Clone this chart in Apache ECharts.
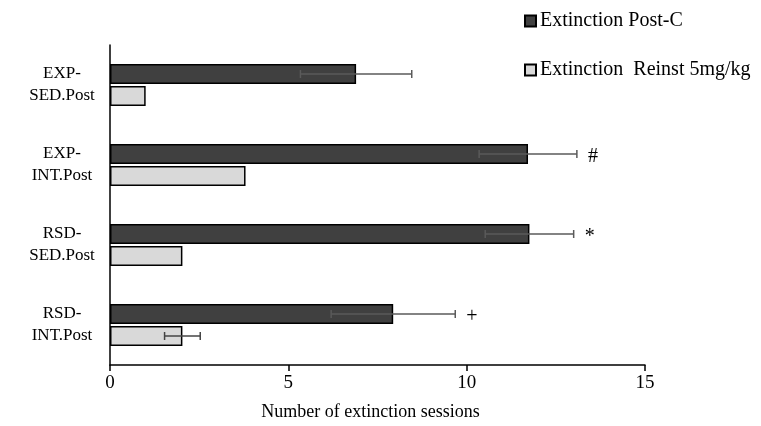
<!DOCTYPE html>
<html>
<head>
<meta charset="utf-8">
<script src="https://cdn.jsdelivr.net/npm/echarts@6/dist/echarts.min.js"></script>
<style>
  html, body { margin: 0; padding: 0; background: #fff; }
  #chart { width: 761px; height: 426px; }
</style>
</head>
<body>
<div id="chart"></div>
<script>
// Groups (top to bottom)
const categories = ['EXP-\nSED.Post', 'EXP-\nINT.Post', 'RSD-\nSED.Post', 'RSD-\nINT.Post'];
// Mean number of extinction sessions and SEM
const postC = [6.9, 11.72, 11.76, 7.94];
const postCErr = [1.56, 1.37, 1.24, 1.74];
const reinst = [1.0, 3.8, 2.03, 2.03];
const reinstErr = [0, 0, 0, 0.5];
// Significance markers beside the Post-C error bars
const marks = ['', '#', '*', '+'];
const xTicks = [0, 5, 10, 15];

const seriesNames = ['Extinction Post-C', 'Extinction  Reinst 5mg/kg'];

const FONT = '"Liberation Serif", "DejaVu Serif", serif';
const BAR_W = 20;
const BAR_GAP = 2;

function errorSeries(means, errs, offset, labels, color) {
  return {
    type: 'custom',
    z: 5,
    silent: true,
    data: means.map((m, i) => [m, errs[i], i]),
    renderItem: function (params, api) {
      const m = api.value(0), e = api.value(1), c = api.value(2);
      const lo = api.coord([m - e, c]);
      const hi = api.coord([m + e, c]);
      const y = lo[1] + offset;
      const children = [];
      if (e > 0) {
        const st = { stroke: color, lineWidth: 1.5 };
        children.push({ type: 'line', shape: { x1: lo[0], y1: y, x2: hi[0], y2: y }, style: st });
        children.push({ type: 'line', shape: { x1: lo[0], y1: y - 4, x2: lo[0], y2: y + 4 }, style: st });
        children.push({ type: 'line', shape: { x1: hi[0], y1: y - 4, x2: hi[0], y2: y + 4 }, style: st });
      }
      const lab = labels ? labels[params.dataIndex] : '';
      if (lab) {
        children.push({
          type: 'text',
          style: {
            text: lab, x: hi[0] + 11, y: y + 3,
            fill: '#000', font: '20px ' + FONT,
            verticalAlign: 'middle', align: 'left'
          }
        });
      }
      return { type: 'group', children: children };
    }
  };
}

const chart = echarts.init(document.getElementById('chart'), null, { renderer: 'canvas' });
chart.setOption({
  animation: false,
  backgroundColor: '#fff',
  textStyle: { fontFamily: FONT },
  grid: { left: 110, right: 116, top: 45, bottom: 61, containLabel: false },
  legend: {
    orient: 'vertical',
    left: 519,
    top: 6,
    itemGap: 29,
    itemWidth: 11,
    itemHeight: 11,
    icon: 'rect',
    textStyle: { fontFamily: FONT, fontSize: 20, color: '#000', padding: [0, 0, 0, -1] },
    data: seriesNames
  },
  xAxis: {
    type: 'value',
    min: 0,
    max: 15,
    interval: 5,
    name: 'Number of extinction sessions',
    nameLocation: 'middle',
    nameGap: 38,
    nameTextStyle: { fontFamily: FONT, fontSize: 18, color: '#000', padding: [0, 14, 0, 0] },
    axisLine: { show: true, lineStyle: { color: '#000', width: 1.5 } },
    axisTick: { show: true, length: 6, inside: false, lineStyle: { color: '#000', width: 1.5 } },
    axisLabel: {
      fontFamily: FONT, fontSize: 19, color: '#000', margin: 9,
      formatter: v => (xTicks.indexOf(v) >= 0 ? String(v) : '')
    },
    splitLine: { show: false }
  },
  yAxis: {
    type: 'category',
    inverse: true,
    data: categories,
    axisLine: { show: true, lineStyle: { color: '#000', width: 1.5 } },
    axisTick: { show: false },
    axisLabel: {
      fontFamily: FONT, fontSize: 17, color: '#000',
      align: 'center', margin: 48, lineHeight: 22
    }
  },
  series: [
    {
      name: seriesNames[0],
      type: 'bar',
      data: postC,
      barWidth: BAR_W,
      barGap: '10%',
      itemStyle: { color: '#404040', borderColor: '#000', borderWidth: 1.5 }
    },
    {
      name: seriesNames[1],
      type: 'bar',
      data: reinst,
      barWidth: BAR_W,
      barGap: '10%',
      itemStyle: { color: '#d9d9d9', borderColor: '#000', borderWidth: 1.5 }
    },
    errorSeries(postC, postCErr, -(BAR_W + BAR_GAP) / 2, marks, '#5a5a5a'),
    errorSeries(reinst, reinstErr, (BAR_W + BAR_GAP) / 2, null, '#444')
  ]
});
</script>
</body>
</html>
